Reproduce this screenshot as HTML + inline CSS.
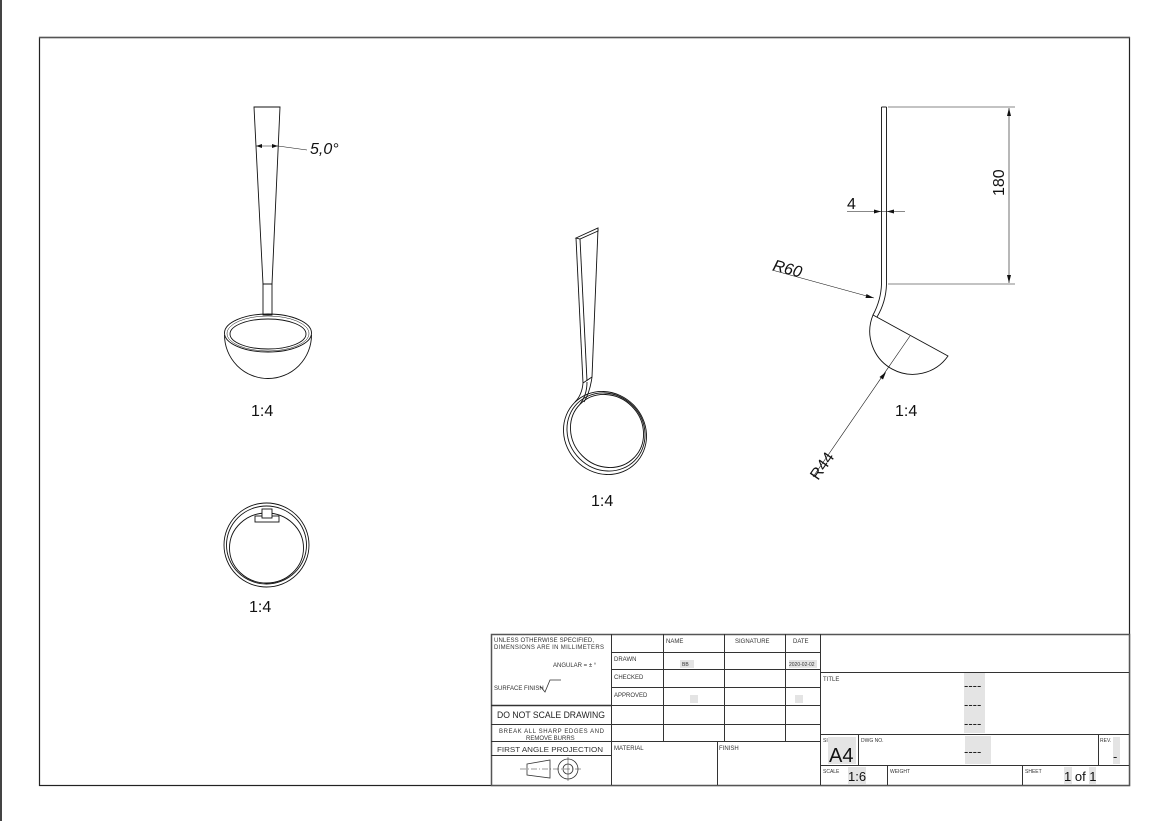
<!DOCTYPE html>
<html><head><meta charset="utf-8"><style>
html,body{margin:0;padding:0;background:#fff;}
svg{display:block;font-family:"Liberation Sans","DejaVu Sans",sans-serif;}
.t{font-size:6px;fill:#333;}
.hl{fill:#e4e4e4;}
</style></head><body>
<svg width="1167" height="821" viewBox="0 0 1167 821" xmlns="http://www.w3.org/2000/svg">
<rect x="0" y="0" width="1167" height="821" fill="#fff"/>
<line x1="1" y1="0" x2="1" y2="821" stroke="#444" stroke-width="2"/>
<rect x="39.5" y="37.5" width="1090" height="748" fill="none" stroke="#222" stroke-width="1.2"/>
<line x1="39" y1="37.5" x2="1130" y2="37.5" stroke="#555" stroke-width="1.5"/>

<g fill="none" stroke="#111" stroke-width="0.9">
<!-- Left front view -->
<path d="M254,107 L280,107 L272,284 L263,284 Z"/>
<rect x="263" y="284" width="9" height="31"/>
<ellipse cx="268" cy="333" rx="43.5" ry="19"/>
<ellipse cx="268" cy="334" rx="38" ry="15"/>
<ellipse cx="268" cy="333.5" rx="41" ry="17.5" stroke-width="0.5"/>
<path d="M224.5,335 A43.5,43.5 0 0 0 311.5,335"/>
<line x1="256" y1="146" x2="278" y2="146" stroke-width="0.6"/>
<path d="M278,146 L307,150" stroke-width="0.6"/>

<!-- Middle iso -->
<path d="M576,238 L598,228 L598,231 L580,239 Z"/>
<path d="M576,238 L583,383"/>
<path d="M580,239 L587,381"/>
<path d="M598,229 L592,377"/>
<path d="M583,383 L592,377"/>
<path d="M583,383 Q582,395 575,402 M587,382 Q587,395 580,404 M592,377 Q590,392 584,402"/>
<ellipse cx="605" cy="433" rx="43" ry="40" transform="rotate(45 605 433)"/>
<ellipse cx="607" cy="431" rx="38" ry="35" transform="rotate(45 607 431)"/>
<ellipse cx="606" cy="432" rx="40.5" ry="37.5" transform="rotate(45 606 432)"/>

<!-- Bottom view -->
<ellipse cx="266.5" cy="545" rx="42.5" ry="42"/>
<ellipse cx="266.5" cy="545" rx="40" ry="39"/>
<ellipse cx="266.5" cy="548" rx="37" ry="35"/>
<rect x="255" y="516" width="24" height="6" fill="#fff"/>
<rect x="262" y="509" width="10" height="9" fill="#fff"/>

<!-- Right side view -->
<path d="M881.5,107 L881.5,284 Q881,300 873,315"/>
<path d="M886.5,107 L886.5,284 Q886,302 877,317"/>
<line x1="881.5" y1="107" x2="886.5" y2="107"/>
<path d="M873,315 L948,356 A43,43 0 0 1 873,315 Z"/>
<line x1="888" y1="107" x2="1015" y2="107" stroke-width="0.6"/>
<line x1="888" y1="284" x2="1015" y2="284" stroke-width="0.6"/>
<line x1="1009" y1="108" x2="1009" y2="283" stroke-width="0.6"/>
<line x1="847" y1="211.5" x2="905" y2="211.5" stroke-width="0.6"/>
<line x1="772" y1="270" x2="874" y2="298" stroke-width="0.6"/>
<line x1="813" y1="477" x2="910" y2="336" stroke-width="0.6"/>
</g>
<g fill="#111">
<path d="M1009,108 l-2,8 l4,0 Z"/><path d="M1009,283 l-2,-8 l4,0 Z"/>
<path d="M881,211.5 l-7,-2 l0,4 Z"/><path d="M887,211.5 l7,-2 l0,4 Z"/>
<path d="M874,298 l-7.5,-4 l-1,4 Z"/>
<path d="M886,372 l-6.5,5 l3.5,2.5 Z"/>
<path d="M256,146 l6,-2 l0,4 Z"/><path d="M278,146 l-6,-2 l0,4 Z"/>
</g>
<g fill="#111" font-size="16">
<text x="310" y="154" font-style="italic">5,0°</text>
<text x="251" y="416">1:4</text>
<text x="591" y="506">1:4</text>
<text x="249" y="612">1:4</text>
<text x="895" y="416">1:4</text>
<text x="847" y="209">4</text>
<text x="772" y="270" font-style="italic" transform="rotate(15 772 270)">R60</text>
<text x="0" y="0" transform="translate(1004,196) rotate(-90)">180</text>
<text x="0" y="0" transform="translate(818,481) rotate(-55)">R44</text>
</g>

<!-- Title block -->
<g fill="none" stroke="#333" stroke-width="1">
<rect x="491.5" y="634.5" width="638" height="151" fill="#fff" stroke="#555" stroke-width="1.5"/>
<line x1="611.5" y1="634" x2="611.5" y2="785"/>
<line x1="820.5" y1="634" x2="820.5" y2="785"/>
<line x1="491" y1="705.5" x2="611" y2="705.5" stroke-width="1.5"/>
<line x1="491" y1="724.5" x2="611" y2="724.5"/>
<line x1="491" y1="741.5" x2="820" y2="741.5"/>
<line x1="491" y1="755.5" x2="611" y2="755.5"/>
<line x1="663.5" y1="634" x2="663.5" y2="741"/>
<line x1="724.5" y1="634" x2="724.5" y2="741"/>
<line x1="785.5" y1="634" x2="785.5" y2="741"/>
<line x1="717.5" y1="741" x2="717.5" y2="785"/>
<line x1="611" y1="652.5" x2="820" y2="652.5"/>
<line x1="611" y1="669.5" x2="820" y2="669.5"/>
<line x1="611" y1="687.5" x2="820" y2="687.5"/>
<line x1="611" y1="705.5" x2="820" y2="705.5"/>
<line x1="611" y1="724.5" x2="820" y2="724.5"/>
<line x1="820" y1="672.5" x2="1129" y2="672.5"/>
<line x1="820" y1="734.5" x2="1129" y2="734.5"/>
<line x1="820" y1="765.5" x2="1129" y2="765.5"/>
<line x1="858.5" y1="734" x2="858.5" y2="765"/>
<line x1="1098.5" y1="734" x2="1098.5" y2="765"/>
<line x1="887.5" y1="765" x2="887.5" y2="785"/>
<line x1="1022.5" y1="765" x2="1022.5" y2="785"/>
<path d="M540,686 L545,692 L550,680 L561,680" stroke-width="0.8"/>
<path d="M527,764 L550,760 L550,778 L527,775 Z" stroke-width="0.8"/>
<line x1="520" y1="769" x2="582" y2="769" stroke-width="0.5" stroke-dasharray="6,2,1,2"/>
<circle cx="568" cy="769" r="10" stroke-width="0.8"/>
<circle cx="568" cy="769" r="5" stroke-width="0.8"/>
<line x1="568" y1="757" x2="568" y2="781" stroke-width="0.5"/>
</g>
<rect class="hl" x="680" y="660" width="14" height="8"/>
<rect class="hl" x="789" y="660" width="28" height="8"/>
<rect class="hl" x="690" y="695" width="8" height="8"/>
<rect class="hl" x="795" y="695" width="8" height="8"/>
<rect class="hl" x="964" y="673" width="21" height="60"/>
<rect class="hl" x="965" y="736" width="26" height="28"/>
<rect class="hl" x="1113" y="737" width="7" height="27"/>
<rect class="hl" x="828" y="737" width="28" height="27"/>
<rect class="hl" x="848" y="767" width="18" height="17"/>
<rect class="hl" x="1064" y="767" width="8" height="17"/>
<rect class="hl" x="1089" y="767" width="7" height="17"/>
<g class="t">
<text x="494" y="642" textLength="100">UNLESS OTHERWISE SPECIFIED,</text>
<text x="494" y="649" textLength="110">DIMENSIONS ARE IN MILLIMETERS</text>
<text x="553" y="667">ANGULAR = ± °</text>
<text x="494" y="690">SURFACE FINISH</text>
<text x="499" y="733" textLength="105">BREAK ALL SHARP EDGES AND</text>
<text x="526" y="740">REMOVE BURRS</text>
<text x="614" y="661">DRAWN</text>
<text x="614" y="679">CHECKED</text>
<text x="614" y="697">APPROVED</text>
<text x="666" y="643">NAME</text>
<text x="735" y="643">SIGNATURE</text>
<text x="793" y="643">DATE</text>
<text x="682" y="666" font-size="5">BB</text>
<text x="789" y="666" font-size="5">2020-02-02</text>
<text x="614" y="750">MATERIAL</text>
<text x="719" y="750">FINISH</text>
<text x="823" y="681">TITLE</text>
<text x="823" y="742" font-size="5">SI</text>
<text x="861" y="742" font-size="5">DWG NO.</text>
<text x="1100" y="742" font-size="5">REV.</text>
<text x="823" y="773" font-size="5">SCALE</text>
<text x="890" y="773" font-size="5">WEIGHT</text>
<text x="1025" y="773" font-size="5">SHEET</text>
</g>
<text x="497" y="718" font-size="9.5" fill="#222" textLength="108" lengthAdjust="spacingAndGlyphs">DO NOT SCALE DRAWING</text>
<text x="497" y="752" font-size="7" fill="#333" textLength="106" lengthAdjust="spacingAndGlyphs">FIRST ANGLE PROJECTION</text>
<g fill="#222" font-size="13">
<text x="964" y="690">----</text>
<text x="964" y="709">----</text>
<text x="964" y="728">----</text>
<text x="964" y="756">----</text>
<text x="1113" y="761">-</text>
</g>
<text x="829" y="762" font-size="20" fill="#111">A4</text>
<text x="848" y="781" font-size="13" fill="#111">1:6</text>
<text x="1064" y="781" font-size="13" fill="#111">1 of 1</text>
</svg>
</body></html>
